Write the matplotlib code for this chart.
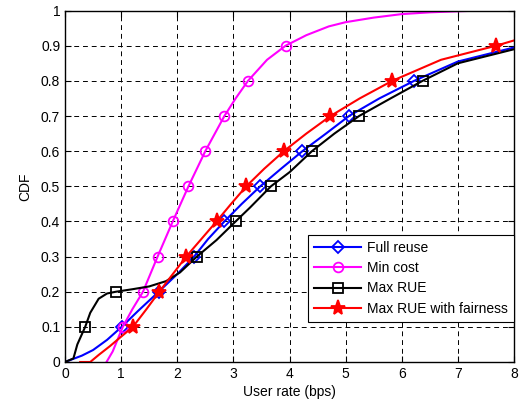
import matplotlib
matplotlib.use('Agg')
import matplotlib.pyplot as plt

plt.rcParams['font.family'] = ['Liberation Sans', 'DejaVu Sans']

# curves (user rate in bps, CDF)
full_x = [0, 0.3, 0.5, 0.75, 1.01, 1.3, 1.67, 2.0, 2.3, 2.55, 2.84, 3.15, 3.48, 3.85, 4.23,
          4.65, 5.06, 5.6, 6.22, 7.0, 8.0]
full_y = [0, 0.018, 0.034, 0.063, 0.1, 0.145, 0.2, 0.25, 0.3, 0.35, 0.4, 0.45, 0.5, 0.55, 0.6,
          0.65, 0.7, 0.75, 0.8, 0.855, 0.895]

min_x = [0.74, 0.85, 1.03, 1.2, 1.39, 1.65, 1.92, 2.2, 2.5, 2.84, 3.04, 3.26, 3.6, 3.93, 4.3,
         4.7, 5.0, 5.5, 6.0, 6.5, 7.0, 7.4, 8.0]
min_y = [0, 0.03, 0.1, 0.15, 0.2, 0.3, 0.4, 0.5, 0.6, 0.7, 0.75, 0.8, 0.86, 0.9, 0.93,
         0.955, 0.967, 0.98, 0.99, 0.995, 0.998, 1.0, 1.0]

rue_x = [0, 0.15, 0.22, 0.36, 0.45, 0.6, 0.75, 0.91, 1.2, 1.5, 1.8, 2.05, 2.35, 2.7, 3.04, 3.3,
         3.67, 4.0, 4.4, 4.8, 5.24, 5.8, 6.37, 7.0, 8.0]
rue_y = [0, 0.01, 0.05, 0.1, 0.14, 0.18, 0.195, 0.2, 0.207, 0.215, 0.23, 0.255, 0.3, 0.347, 0.4,
         0.44, 0.5, 0.54, 0.6, 0.65, 0.7, 0.75, 0.8, 0.85, 0.89]

fair_x = [0.27, 0.45, 0.6, 0.8, 1.0, 1.21, 1.45, 1.68, 1.92, 2.16, 2.43, 2.7, 2.96, 3.23, 3.55,
          3.9, 4.3, 4.73, 5.25, 5.83, 6.7, 7.68, 8.0]
fair_y = [0, 0.0, 0.02, 0.045, 0.072, 0.1, 0.15, 0.2, 0.25, 0.3, 0.35, 0.4, 0.45, 0.5, 0.55,
          0.6, 0.65, 0.7, 0.75, 0.8, 0.86, 0.9, 0.915]

# marker positions at CDF levels
full_mx = [1.01, 1.67, 2.3, 2.84, 3.48, 4.23, 5.06, 6.22]
full_my = [0.1, 0.2, 0.3, 0.4, 0.5, 0.6, 0.7, 0.8]
min_mx = [1.03, 1.39, 1.65, 1.92, 2.2, 2.5, 2.84, 3.26, 3.93]
min_my = [0.1, 0.2, 0.3, 0.4, 0.5, 0.6, 0.7, 0.8, 0.9]
rue_mx = [0.36, 0.91, 2.35, 3.04, 3.67, 4.4, 5.24, 6.37]
rue_my = [0.1, 0.2, 0.3, 0.4, 0.5, 0.6, 0.7, 0.8]
fair_mx = [1.21, 1.68, 2.16, 2.7, 3.23, 3.9, 4.73, 5.83, 7.68]
fair_my = [0.1, 0.2, 0.3, 0.4, 0.5, 0.6, 0.7, 0.8, 0.9]

series = [
    ('Full reuse', full_x, full_y, full_mx, full_my, 'blue', 'D', 6, 'none'),
    ('Min cost', min_x, min_y, min_mx, min_my, 'magenta', 'o', 7, 'none'),
    ('Max RUE', rue_x, rue_y, rue_mx, rue_my, 'black', 's', 7, 'none'),
    ('Max RUE with fairness', fair_x, fair_y, fair_mx, fair_my, 'red', '*', 11, 'red'),
]

fig = plt.figure(figsize=(5.22, 4.07), dpi=100)
ax = fig.add_axes([0.1245, 0.1106, 0.8602, 0.8634])

for name, x, y, mx, my, col, mk, ms, fc in series:
    ax.plot(x, y, color=col, lw=1.5)
    ax.plot(mx, my, linestyle='none', marker=mk, markersize=ms, markerfacecolor=fc,
            markeredgecolor=col, markeredgewidth=1.3)
    ax.plot([], [], color=col, lw=1.5, marker=mk, markersize=ms, markerfacecolor=fc,
            markeredgecolor=col, markeredgewidth=1.3, label=name)

ax.set_xlim(0, 8)
ax.set_ylim(0, 1)
ax.set_xticks(range(0, 9))
ax.set_xticklabels([str(i) for i in range(0, 9)])
yt = [i / 10 for i in range(11)]
ax.set_yticks(yt)
ax.set_yticklabels(['0', '0.1', '0.2', '0.3', '0.4', '0.5', '0.6', '0.7', '0.8', '0.9', '1'])
ax.tick_params(direction='in', labelsize=10, length=4, top=True, right=True)
ax.grid(True, color='black', linestyle=(0, (5, 4)), linewidth=0.7)
for s in ax.spines.values():
    s.set_linewidth(1.0)

ax.set_xlabel('User rate (bps)', fontsize=10, labelpad=3)
ax.set_ylabel('CDF', fontsize=10, labelpad=6)

leg = ax.legend(loc='lower right', bbox_to_anchor=(1.0, 0.114), borderaxespad=0,
                fancybox=False, edgecolor='black', framealpha=1, fontsize=10,
                handlelength=3.4, handletextpad=0.4, labelspacing=0.45, borderpad=0.45)
leg.get_frame().set_linewidth(0.8)

fig.savefig('out.png', dpi=100)
